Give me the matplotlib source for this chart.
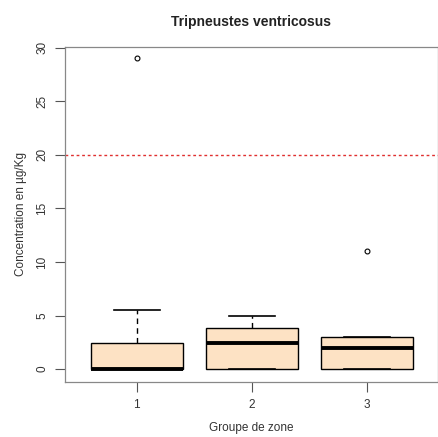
import matplotlib
matplotlib.use("Agg")
import matplotlib.pyplot as plt

plt.rcParams['font.family'] = ['Liberation Sans', 'DejaVu Sans']

# Summary statistics per zone group
groups = ["1", "2", "3"]
q1 = [0.0, 0.0, 0.0]
medians = [0.05, 2.45, 2.0]
q3 = [2.4, 3.8, 3.0]
whisker_low = [0.0, 0.0, 0.0]
whisker_high = [5.55, 4.95, 3.0]
outliers = [[29.0], [], [11.0]]
threshold = 20

fig = plt.figure(figsize=(4.39, 4.37), dpi=100)
ax = fig.add_axes([65/439, 1-382/437, 373/439, 335/437])

stats = []
for g, a, m, b, lo, hi, fl in zip(groups, q1, medians, q3, whisker_low, whisker_high, outliers):
    stats.append(dict(label=g, q1=a, med=m, q3=b, whislo=lo, whishi=hi, fliers=fl))

ax.bxp(stats, positions=[1, 2, 3], widths=0.8, patch_artist=True,
       boxprops=dict(facecolor="#FDE2C4", edgecolor="black", linewidth=1.0),
       medianprops=dict(color="black", linewidth=2.8, solid_capstyle="butt"),
       whiskerprops=dict(color="black", linewidth=1.0, linestyle=(0, (4, 3))),
       capprops=dict(color="black", linewidth=1.2),
       flierprops=dict(marker="o", markersize=3.5, markerfacecolor="none",
                       markeredgecolor="black", markeredgewidth=0.8),
       capwidths=0.4)

ax.axhline(threshold, color="#E03030", linestyle=(0, (2, 2)), linewidth=1.0)

ax.set_xlim(0.376, 3.62)
ax.set_ylim(-1.2, 30.05)
ax.set_yticks([0, 5, 10, 15, 20, 25, 30])
ax.set_xticks([1, 2, 3])
ax.set_xticklabels(groups)
for lab in ax.get_yticklabels():
    lab.set_rotation(90)
    lab.set_va("center")

ax.tick_params(axis="both", direction="out", length=7, width=0.8,
               colors="#555555", labelcolor="#333333", labelsize=8.5, pad=5)
for s in ax.spines.values():
    s.set_color("#888888")
    s.set_linewidth(0.9)

ax.set_title("Tripneustes ventricosus", fontsize=10, fontweight="bold",
             color="#222222", pad=15)
ax.set_xlabel("Groupe de zone", fontsize=8.5, color="#333333", labelpad=8)
ax.set_ylabel("Concentration en µg/Kg", fontsize=8.5, color="#333333", labelpad=7)

fig.savefig("out.png", dpi=100)
